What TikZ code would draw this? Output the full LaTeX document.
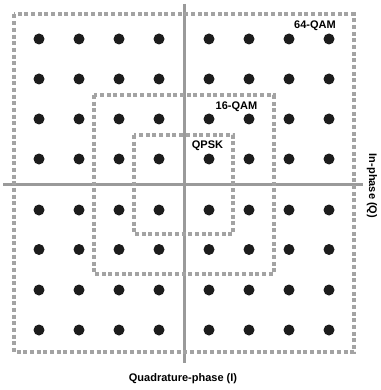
\documentclass[tikz,border=0pt]{standalone}
\usepackage{fontspec}
\setmainfont{Liberation Sans}
\definecolor{boxgrey}{HTML}{A3A3A3}
\definecolor{axisgrey}{HTML}{9A9A9A}
\definecolor{dotblack}{HTML}{1C1C1C}
\begin{document}
\begin{tikzpicture}[x=1pt,y=-1pt,
  axisline/.style={draw=axisgrey,line width=3pt},
  qambox/.style={draw=boxgrey,line width=4pt,dash pattern=on 4pt off 2.67pt},
  cdot/.style={circle,fill=dotblack,inner sep=0pt,minimum size=11pt},
  lbl/.style={font=\fontsize{11}{13}\selectfont\bfseries,inner sep=0pt}]
\useasboundingbox (0,0) rectangle (380,390);
% axes
\coordinate (vtop) at (184,4);
\coordinate (vbot) at (184,363);
\coordinate (hl) at (3,184);
\coordinate (hr) at (363,184);
\draw[axisline] (vtop) -- (vbot);
\draw[axisline] (hl) -- (hr);
% boxes
\draw[qambox] (14,14.5) rectangle (354,352);
\draw[qambox] (94,95) rectangle (273.5,274);
\draw[qambox] (134,135) rectangle (233,234);
% dots
\foreach \i/\xo in {1/-145,2/-105,3/-65,4/-25,5/25,6/65,7/105,8/145}{
  \foreach \j/\yo in {1/-145,2/-105,3/-65,4/-25,5/26,6/65.5,7/106,8/146}{
    \node[cdot] (d\i\j) at (184+\xo,184+\yo) {};
  }
}
% labels
\node[lbl,anchor=east] (l64) at (336,26) {64-QAM};
\node[lbl] (l16) at (236.5,107) {16-QAM};
\node[lbl] (lqpsk) at (207.5,145.5) {QPSK};
\node[lbl,rotate=-90] (lin) at (372,186) {In-phase (Q)};
\node[lbl] (lquad) at (183,379) {Quadrature-phase (I)};
\end{tikzpicture}
\end{document}
